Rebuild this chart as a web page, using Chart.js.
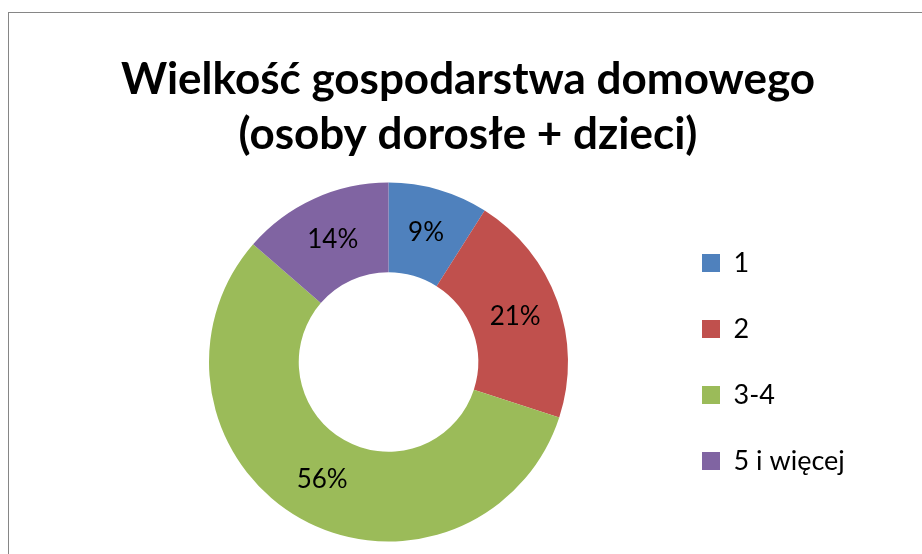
<!DOCTYPE html>
<html>
<head>
<meta charset="utf-8">
<script src="https://cdn.jsdelivr.net/npm/chart.js@4"></script>
<style>
    html, body { margin: 0; padding: 0; background: #ffffff; }
    #frame {
        position: absolute; left: 8px; top: 12px; width: 1000px; height: 600px;
        border-left: 1px solid #868686; border-top: 1px solid #868686;
    }
    #wrap { position: absolute; left: 0; top: 0; width: 922px; height: 554px; }
</style>
</head>
<body>
<div id="frame"></div>
<div id="wrap"><canvas id="householdChart" width="922" height="554"></canvas></div>
<script>
const categories = ['1', '2', '3-4', '5 i więcej'];
const shares     = [9.0, 21.0, 56.4, 13.6];
const titleLines = ['Wielkość gospodarstwa domowego', '(osoby dorosłe + dzieci)'];

const SLICE_COLORS = ['#4F81BD', '#C0504D', '#9BBB59', '#8064A2'];
const FONT_FAMILY  = 'Lato, "Open Sans", sans-serif';

// percentage labels in the middle of each ring segment
const sliceLabels = {
    id: 'sliceLabels',
    afterLayout(chart) {
        // legend is kept narrow so the title stays centred; let its text run past the box
        if (chart.legend) { chart.legend.right = chart.width; }
    },
    afterDatasetsDraw(chart) {
        const ctx = chart.ctx;
        const meta = chart.getDatasetMeta(0);
        const data = chart.data.datasets[0].data;
        const total = data.reduce((a, b) => a + b, 0);
        ctx.save();
        ctx.font = '26px ' + FONT_FAMILY;
        ctx.fillStyle = '#000000';
        ctx.textAlign = 'center';
        ctx.textBaseline = 'middle';
        meta.data.forEach((arc, i) => {
            const pos = arc.tooltipPosition();
            ctx.fillText(Math.round(data[i] / total * 100) + '%', pos.x, pos.y);
        });
        ctx.restore();
    }
};

new Chart(document.getElementById('householdChart'), {
    type: 'doughnut',
    data: {
        labels: categories,
        datasets: [{
            data: shares,
            backgroundColor: SLICE_COLORS,
            borderWidth: 0
        }]
    },
    options: {
        responsive: false,
        animation: false,
        cutout: '50%',
        layout: { padding: { left: 114, right: 100, top: 0, bottom: 12.5 } },
        plugins: {
            title: {
                display: true,
                text: titleLines,
                color: '#000000',
                font: { family: FONT_FAMILY, size: 44, weight: 'bold', lineHeight: 1.25 },
                padding: { top: 52.5, bottom: 20 }
            },
            legend: {
                display: true,
                position: 'right',
                fullSize: false,
                maxWidth: 159,
                labels: {
                    color: '#000000',
                    boxWidth: 18,
                    boxHeight: 18,
                    padding: 39,
                    font: { family: FONT_FAMILY, size: 27 }
                }
            },
            tooltip: { enabled: false }
        }
    },
    plugins: [sliceLabels]
});
</script>
</body>
</html>
